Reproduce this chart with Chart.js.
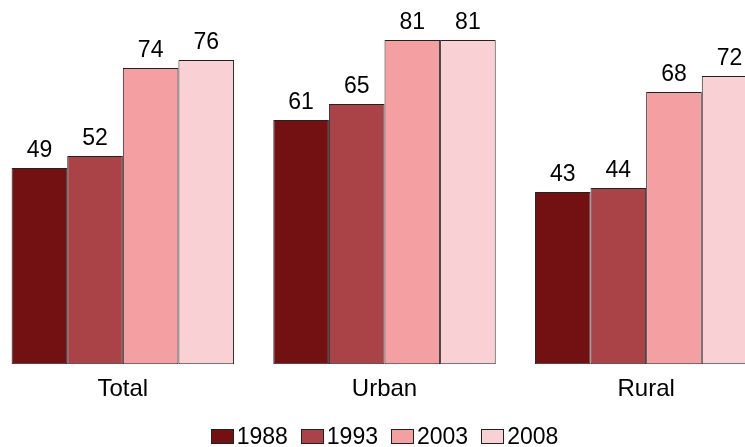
<!DOCTYPE html>
<html>
<head>
<meta charset="utf-8">
<script src="https://cdn.jsdelivr.net/npm/chart.js@4"></script>
<style>
  html, body { margin: 0; padding: 0; background: #fff; overflow: hidden; }
  body { width: 745px; height: 447px; position: relative; font-family: "Liberation Sans", Arial, sans-serif; }
  #wrap { position: absolute; left: -8px; top: 0; width: 785px; height: 424px; }
  #legend { position: absolute; left: -8px; width: 785px; top: 424px; display: flex; justify-content: center; align-items: center; font-size: 23px; line-height: 24px; color: #000; }
  #legend .item { display: flex; align-items: center; margin: 0 6.5px; }
  #legend .box { width: 21px; height: 13px; border: 1px solid #222; margin-right: 3px; }
</style>
</head>
<body>
<div id="wrap"><canvas id="chart"></canvas></div>
<div id="legend"></div>
<script>
const categories = ['Total', 'Urban', 'Rural'];
const years = ['1988', '1993', '2003', '2008'];
const values1988 = [49, 61, 43];
const values1993 = [52, 65, 44];
const values2003 = [74, 81, 68];
const values2008 = [76, 81, 72];
const colors = ['#731012', '#aa4347', '#f4a0a3', '#f9d1d4'];

const seriesValues = [values1988, values1993, values2003, values2008];

// etiquetas de valor encima de cada barra
const valueLabels = {
    id: 'valueLabels',
    afterDatasetsDraw(chart) {
        const ctx = chart.ctx;
        ctx.save();
        ctx.font = '23px "Liberation Sans", Arial, sans-serif';
        ctx.fillStyle = '#000';
        ctx.textAlign = 'center';
        ctx.textBaseline = 'alphabetic';
        chart.data.datasets.forEach((ds, i) => {
            chart.getDatasetMeta(i).data.forEach((bar, j) => {
                ctx.fillText(ds.data[j], bar.x, bar.y - 11);
            });
        });
        ctx.restore();
    }
};

const ctx = document.getElementById('chart').getContext('2d');
new Chart(ctx, {
    type: 'bar',
    data: {
        labels: categories,
        datasets: years.map((y, i) => ({
            label: y,
            data: seriesValues[i],
            backgroundColor: colors[i],
            borderColor: '#222',
            borderWidth: 1,
            borderSkipped: false,
            categoryPercentage: 0.85,
            barPercentage: 1
        }))
    },
    options: {
        responsive: true,
        maintainAspectRatio: false,
        animation: false,
        layout: { padding: { top: 4, bottom: 9, left: 0, right: 0 } },
        plugins: {
            legend: { display: false },
            tooltip: { enabled: false }
        },
        scales: {
            x: {
                grid: { display: false, drawTicks: false },
                border: { display: false },
                ticks: {
                    color: '#000',
                    padding: 11,
                    font: { family: '"Liberation Sans", Arial, sans-serif', size: 24 }
                }
            },
            y: {
                display: false,
                min: 0,
                max: 90
            }
        }
    },
    plugins: [valueLabels]
});

// leyenda
const legend = document.getElementById('legend');
years.forEach((y, i) => {
    const item = document.createElement('div');
    item.className = 'item';
    const box = document.createElement('span');
    box.className = 'box';
    box.style.background = colors[i];
    const txt = document.createElement('span');
    txt.textContent = y;
    item.appendChild(box);
    item.appendChild(txt);
    legend.appendChild(item);
});
</script>
</body>
</html>
